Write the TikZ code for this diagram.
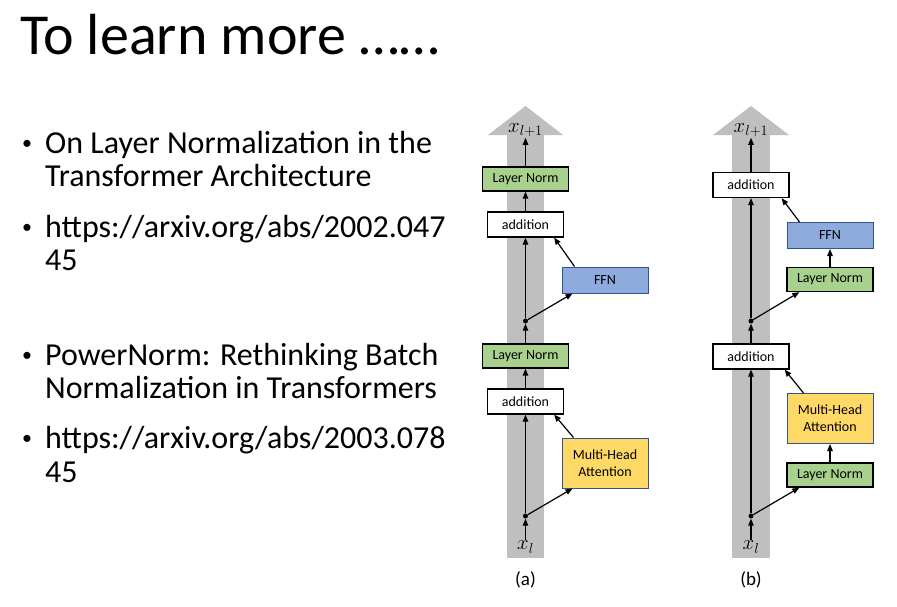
\documentclass[tikz,border=0pt]{standalone}
\usepackage{fontspec}
\setmainfont{Carlito}
\usepackage{tikz}
\usetikzlibrary{arrows.meta,positioning}
\definecolor{bargray}{HTML}{BFBFBF}
\definecolor{lngreen}{HTML}{A9D18E}
\definecolor{ffnblue}{HTML}{8FAADC}
\definecolor{mhayellow}{HTML}{FFD966}
\definecolor{edgeblue}{HTML}{2F5597}
\tikzset{
  lnbox/.style={rectangle,draw=black,line width=1.3pt,fill=lngreen,inner sep=0pt,
    minimum width=86pt,minimum height=24pt,font=\fontsize{14}{15}\selectfont},
  addbox/.style={rectangle,draw=black,line width=1.2pt,fill=white,inner sep=0pt,
    minimum width=76pt,minimum height=25pt,font=\fontsize{14}{15}\selectfont},
  ffnbox/.style={rectangle,draw=edgeblue,line width=1pt,fill=ffnblue,inner sep=0pt,
    minimum width=86pt,minimum height=26pt,font=\fontsize{14}{15}\selectfont},
  mhabox/.style={rectangle,draw=edgeblue,line width=1pt,fill=mhayellow,inner sep=0pt,
    minimum width=86pt,minimum height=50pt,align=center,font=\fontsize{14}{17}\selectfont},
  arrow/.style={-{Triangle[length=7pt,width=5.5pt]},line width=1.2pt,draw=black},
  joint/.style={circle,fill=black,inner sep=0pt,minimum size=5pt},
  xlab/.style={inner sep=1pt,font=\fontsize{20}{20}\selectfont},
  bullet/.style={anchor=base west,inner sep=0pt,font=\fontsize{32}{32}\selectfont},
  dotmark/.style={anchor=base west,inner sep=0pt,font=\fontsize{20}{20}\selectfont},
  caption/.style={font=\fontsize{19}{19}\selectfont}
}
\begin{document}
\begin{tikzpicture}[x=1pt,y=-1pt]
\useasboundingbox[fill=white] (0,0) rectangle (897,606);
% title and references
\node[anchor=base west,inner sep=0pt,font=\fontsize{58}{58}\selectfont] (title) at (20,54) {To learn more ……};
\node[dotmark] (b1) at (22,149) {•};
\node[bullet] (t1) at (45,153) {On Layer Normalization in the};
\node[bullet] (t1b) at (45,186) {Transformer Architecture};
\node[dotmark] (b2) at (22,233) {•};
\node[bullet] (t2) at (45,237) {https://arxiv.org/abs/2002.047};
\node[bullet] (t2b) at (45,270) {45};
\node[dotmark] (b3) at (22,361) {•};
\node[bullet] (t3) at (45,365) {PowerNorm: Rethinking Batch};
\node[bullet] (t3b) at (45,398) {Normalization in Transformers};
\node[dotmark] (b4) at (22,444) {•};
\node[bullet] (t4) at (45,448) {https://arxiv.org/abs/2003.078};
\node[bullet] (t4b) at (45,482) {45};
% (a) post-LN
\fill[bargray] (507,135) rectangle (544,558);
\fill[bargray] (488,135) -- (525.5,106) -- (563,135) -- cycle;
\node[xlab] (xa) at (525.5,547) {$x_l$};
\node[joint] (ja) at (525.5,516) {};
\node[mhabox] (ma) at (605,463) {Multi-Head\\Attention};
\node[addbox] (aa) at (525.5,401.5) {addition};
\node[lnbox] (la) at (525.5,356) {Layer Norm};
\node[joint] (ja2) at (525.5,321) {};
\node[ffnbox] (fa) at (605,280) {FFN};
\node[addbox] (aa2) at (525.5,224.5) {addition};
\node[lnbox] (la2) at (525.5,179) {Layer Norm};
\node[xlab] (ya) at (525.5,130) {$x_{l+1}$};
\node[caption] (ca) at (525.5,580) {(a)};
\draw[arrow] (xa)--(ja);\draw[arrow] (ja)--(aa);
\draw[arrow] (ja)--([xshift=11pt]ma.south west);
\draw[arrow] ([xshift=12pt]ma.north west)--([xshift=-10pt]aa.south east);
\draw[arrow] (aa)--(la);\draw[arrow] (la)--(ja2);\draw[arrow] (ja2)--(aa2);
\draw[arrow] (ja2)--([xshift=11pt]fa.south west);
\draw[arrow] ([xshift=13pt]fa.north west)--([xshift=-10pt]aa2.south east);
\draw[arrow] (aa2)--(la2);\draw[arrow] (la2)--(ya);
% (b) pre-LN
\fill[bargray] (732,135) rectangle (770,558);
\fill[bargray] (713,135) -- (751,106) -- (789,135) -- cycle;
\node[xlab] (xb) at (751,547) {$x_l$};
\node[joint] (jb) at (751,516) {};
\node[lnbox] (lb) at (830,475) {Layer Norm};
\node[mhabox] (mb) at (830,418.5) {Multi-Head\\Attention};
\node[addbox] (ab) at (751,356.5) {addition};
\node[joint] (jb2) at (751,321) {};
\node[lnbox] (lb2) at (830,279.5) {Layer Norm};
\node[ffnbox] (fb) at (830,235.5) {FFN};
\node[addbox] (ab2) at (751,185) {addition};
\node[xlab] (yb) at (751,130) {$x_{l+1}$};
\node[caption] (cb) at (751,580) {(b)};
\draw[arrow] (xb)--(jb);\draw[arrow] (jb)--(ab);
\draw[arrow] (jb)--([xshift=13pt]lb.south west);
\draw[arrow] (lb)--(mb);
\draw[arrow] ([xshift=17pt]mb.north west)--([xshift=-5pt]ab.south east);
\draw[arrow] (ab)--(jb2);\draw[arrow] (jb2)--(ab2);
\draw[arrow] (jb2)--([xshift=13pt]lb2.south west);
\draw[arrow] (lb2)--(fb);
\draw[arrow] ([xshift=13pt]fb.north west)--([xshift=-8pt]ab2.south east);
\draw[arrow] (ab2)--(yb);
\end{tikzpicture}
\end{document}
